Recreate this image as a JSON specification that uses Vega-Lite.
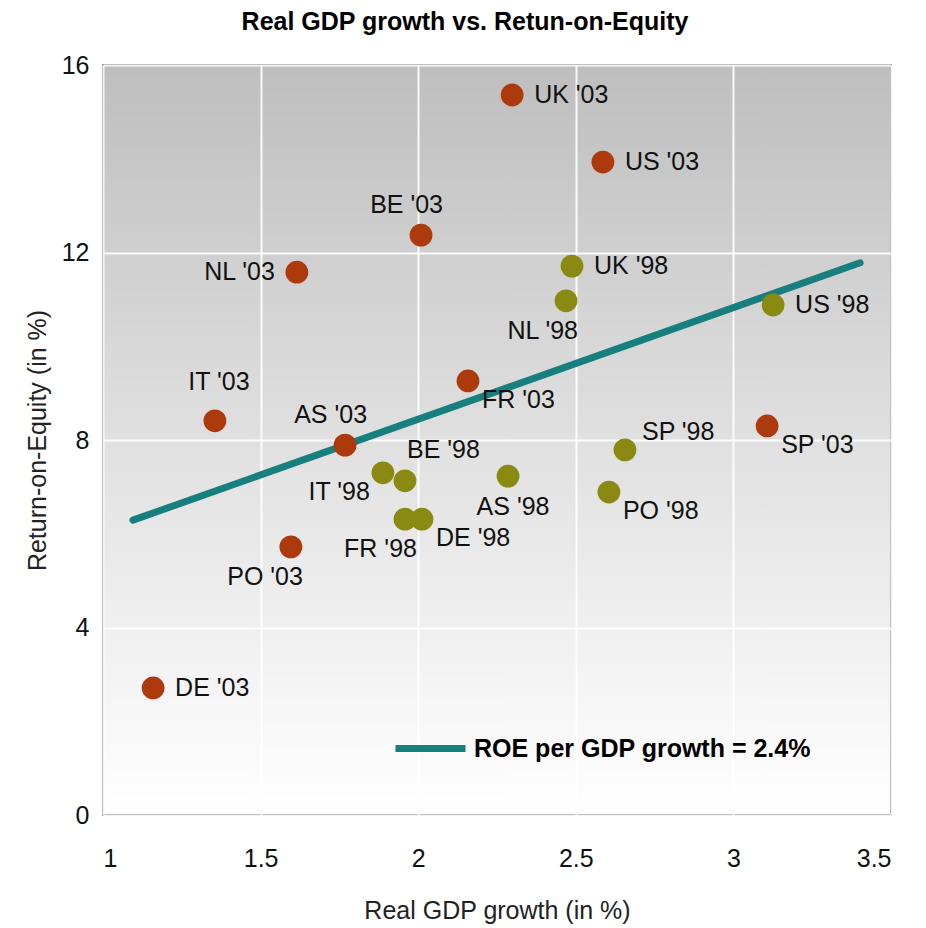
{
  "$schema": "https://vega.github.io/schema/vega-lite/v6.json",
  "autosize": {"type": "none"},
  "width": 788,
  "height": 750,
  "padding": {"left": 103, "top": 65, "right": 35, "bottom": 113},
  "background": "white",
  "title": {"text": "Real GDP growth vs. Retun-on-Equity", "fontSize": 25, "font": "Liberation Sans", "fontWeight": "bold", "color": "#000000", "anchor": "middle", "dx": -32, "offset": 18},
  "config": {
    "font": "Liberation Sans",
    "view": {
      "stroke": "#8a8a8a",
      "strokeWidth": 2,
      "fill": {"gradient": "linear", "x1": 0, "y1": 0, "x2": 0, "y2": 1, "stops": [{"offset": 0, "color": "#bebebe"}, {"offset": 0.5, "color": "#e0e0e0"}, {"offset": 1, "color": "#ffffff"}]}
    },
    "axis": {"grid": true, "gridColor": "#ffffff", "gridWidth": 2, "gridOpacity": 0.9, "domain": false, "ticks": false, "labelFontSize": 25, "labelColor": "#111111", "titleFontSize": 25, "titleFontWeight": "normal", "titleColor": "#222222", "labelFont": "Liberation Sans", "titleFont": "Liberation Sans"}
  },
  "datasets": {
    "pts": [
      {"label": "UK '03", "year": "2003", "gdp": 2.298, "roe": 15.36, "pos": "R"},
      {"label": "US '03", "year": "2003", "gdp": 2.586, "roe": 13.93, "pos": "R"},
      {"label": "BE '03", "year": "2003", "gdp": 2.009, "roe": 12.37, "pos": "TL"},
      {"label": "NL '03", "year": "2003", "gdp": 1.615, "roe": 11.58, "pos": "L"},
      {"label": "IT '03", "year": "2003", "gdp": 1.355, "roe": 8.41, "pos": "T"},
      {"label": "AS '03", "year": "2003", "gdp": 1.768, "roe": 7.89, "pos": "TL"},
      {"label": "FR '03", "year": "2003", "gdp": 2.158, "roe": 9.26, "pos": "RB"},
      {"label": "SP '03", "year": "2003", "gdp": 3.107, "roe": 8.30, "pos": "RB"},
      {"label": "PO '03", "year": "2003", "gdp": 1.596, "roe": 5.72, "pos": "BL"},
      {"label": "DE '03", "year": "2003", "gdp": 1.159, "roe": 2.71, "pos": "R"},
      {"label": "UK '98", "year": "1998", "gdp": 2.488, "roe": 11.71, "pos": "R"},
      {"label": "NL '98", "year": "1998", "gdp": 2.469, "roe": 10.97, "pos": "BL"},
      {"label": "US '98", "year": "1998", "gdp": 3.126, "roe": 10.88, "pos": "R"},
      {"label": "SP '98", "year": "1998", "gdp": 2.656, "roe": 7.79, "pos": "RT"},
      {"label": "PO '98", "year": "1998", "gdp": 2.605, "roe": 6.89, "pos": "RB"},
      {"label": "AS '98", "year": "1998", "gdp": 2.285, "roe": 7.23, "pos": "B"},
      {"label": "IT '98", "year": "1998", "gdp": 1.888, "roe": 7.30, "pos": "LB"},
      {"label": "BE '98", "year": "1998", "gdp": 1.958, "roe": 7.13, "pos": "TR"},
      {"label": "FR '98", "year": "1998", "gdp": 1.958, "roe": 6.31, "pos": "BL"},
      {"label": "DE '98", "year": "1998", "gdp": 2.012, "roe": 6.31, "pos": "RB"}
    ],
    "trend": [
      {"gdp": 1.095, "roe": 6.29, "series": "ROE per GDP growth = 2.4%"},
      {"gdp": 3.402, "roe": 11.78, "series": "ROE per GDP growth = 2.4%"}
    ]
  },
  "encoding": {
    "x": {"field": "gdp", "type": "quantitative", "scale": {"domain": [1, 3.5], "nice": false, "zero": false}, "axis": {"values": [1, 1.5, 2, 2.5, 3, 3.5], "format": "~g", "labelPadding": 31, "title": "Real GDP growth (in %)", "titlePadding": 27}},
    "y": {"field": "roe", "type": "quantitative", "scale": {"domain": [0, 16], "nice": false}, "axis": {"values": [0, 4, 8, 12, 16], "labelPadding": 14, "title": "Return-on-Equity (in %)", "titlePadding": 11}}
  },
  "layer": [
    {
      "data": {"name": "trend"},
      "mark": {"type": "line", "strokeWidth": 7, "strokeCap": "round"},
      "encoding": {
        "stroke": {"field": "series", "type": "nominal", "scale": {"range": ["#17807e"]}, "legend": {"orient": "none", "legendX": 289, "legendY": 645, "title": null, "symbolType": "stroke", "symbolSize": 4900, "symbolStrokeWidth": 7, "labelFontSize": 25, "labelFontWeight": "bold", "labelColor": "#000000", "labelFont": "Liberation Sans", "labelOffset": 5, "labelLimit": 600, "symbolStrokeColor": "#17807e"}}
      }
    },
    {
      "data": {"name": "pts"},
      "mark": {"type": "circle", "size": 520, "opacity": 1},
      "encoding": {
        "fill": {"field": "year", "type": "nominal", "scale": {"domain": ["1998", "2003"], "range": ["#8a8a12", "#ad3a0c"]}, "legend": null}
      }
    },
    {
      "data": {"name": "pts"},
      "transform": [{"filter": "datum.pos === 'R'"}],
      "mark": {"type": "text", "align": "left", "baseline": "middle", "dx": 22, "dy": 0, "fontSize": 25, "color": "#111111"},
      "encoding": {"text": {"field": "label"}}
    },
    {
      "data": {"name": "pts"},
      "transform": [{"filter": "datum.pos === 'L'"}],
      "mark": {"type": "text", "align": "right", "baseline": "middle", "dx": -22, "dy": 0, "fontSize": 25, "color": "#111111"},
      "encoding": {"text": {"field": "label"}}
    },
    {
      "data": {"name": "pts"},
      "transform": [{"filter": "datum.pos === 'RB'"}],
      "mark": {"type": "text", "align": "left", "baseline": "middle", "dx": 14, "dy": 19, "fontSize": 25, "color": "#111111"},
      "encoding": {"text": {"field": "label"}}
    },
    {
      "data": {"name": "pts"},
      "transform": [{"filter": "datum.pos === 'RT'"}],
      "mark": {"type": "text", "align": "left", "baseline": "middle", "dx": 17, "dy": -18, "fontSize": 25, "color": "#111111"},
      "encoding": {"text": {"field": "label"}}
    },
    {
      "data": {"name": "pts"},
      "transform": [{"filter": "datum.pos === 'T'"}],
      "mark": {"type": "text", "align": "center", "baseline": "middle", "dx": 4, "dy": -39, "fontSize": 25, "color": "#111111"},
      "encoding": {"text": {"field": "label"}}
    },
    {
      "data": {"name": "pts"},
      "transform": [{"filter": "datum.pos === 'TL'"}],
      "mark": {"type": "text", "align": "right", "baseline": "middle", "dx": 22, "dy": -30, "fontSize": 25, "color": "#111111"},
      "encoding": {"text": {"field": "label"}}
    },
    {
      "data": {"name": "pts"},
      "transform": [{"filter": "datum.pos === 'TR'"}],
      "mark": {"type": "text", "align": "left", "baseline": "middle", "dx": 2, "dy": -31, "fontSize": 25, "color": "#111111"},
      "encoding": {"text": {"field": "label"}}
    },
    {
      "data": {"name": "pts"},
      "transform": [{"filter": "datum.pos === 'BL'"}],
      "mark": {"type": "text", "align": "right", "baseline": "middle", "dx": 12, "dy": 30, "fontSize": 25, "color": "#111111"},
      "encoding": {"text": {"field": "label"}}
    },
    {
      "data": {"name": "pts"},
      "transform": [{"filter": "datum.pos === 'LB'"}],
      "mark": {"type": "text", "align": "right", "baseline": "middle", "dx": -13, "dy": 19, "fontSize": 25, "color": "#111111"},
      "encoding": {"text": {"field": "label"}}
    },
    {
      "data": {"name": "pts"},
      "transform": [{"filter": "datum.pos === 'B'"}],
      "mark": {"type": "text", "align": "center", "baseline": "middle", "dx": 5, "dy": 31, "fontSize": 25, "color": "#111111"},
      "encoding": {"text": {"field": "label"}}
    }
  ]
}
